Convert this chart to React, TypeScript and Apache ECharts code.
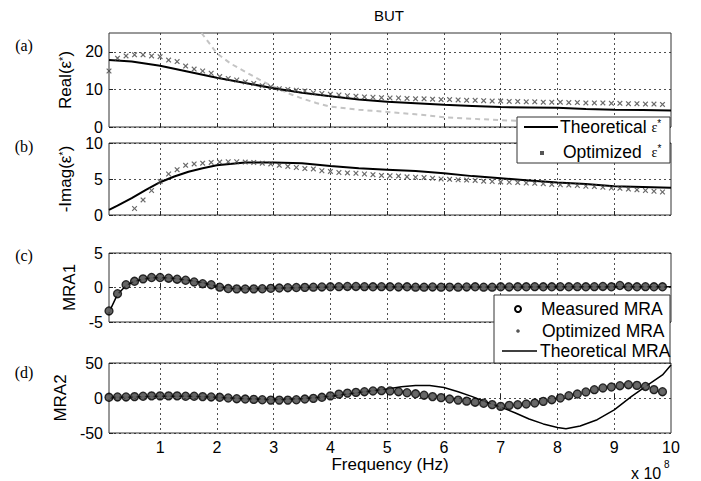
import React, { useEffect, useRef } from "react";
import * as echarts from "echarts";

// Frequency samples in units of 1e8 Hz
const freq = [0.1, 0.25, 0.4, 0.55, 0.7, 0.85, 1.0, 1.15, 1.3, 1.45, 1.6, 1.75, 1.9, 2.05, 2.2, 2.35, 2.5, 2.65, 2.8, 2.95, 3.1, 3.25, 3.4, 3.55, 3.7, 3.85, 4.0, 4.15, 4.3, 4.45, 4.6, 4.75, 4.9, 5.05, 5.2, 5.35, 5.5, 5.65, 5.8, 5.95, 6.1, 6.25, 6.4, 6.55, 6.7, 6.85, 7.0, 7.15, 7.3, 7.45, 7.6, 7.75, 7.9, 8.05, 8.2, 8.35, 8.5, 8.65, 8.8, 8.95, 9.1, 9.25, 9.4, 9.55, 9.7, 9.85];

// (a) Real(eps*)
const realOpt = [14.9, 18.3, 18.9, 19.2, 19.2, 18.9, 18.7, 17.8, 17.4, 16.2, 15.4, 14.9, 14.3, 13.4, 12.9, 12.5, 12.0, 11.6, 11.0, 10.7, 10.2, 10.0, 9.8, 9.6, 9.1, 8.9, 8.7, 8.5, 8.3, 8.2, 8.0, 7.9, 7.8, 7.7, 7.7, 7.6, 7.5, 7.5, 7.4, 7.3, 7.3, 7.2, 7.1, 7.1, 7.0, 6.9, 6.9, 6.8, 6.8, 6.7, 6.7, 6.6, 6.6, 6.6, 6.5, 6.5, 6.4, 6.4, 6.4, 6.3, 6.3, 6.2, 6.2, 6.1, 6.1, 6.0];
const realTheoF = [0.1, 0.5, 1, 1.5, 2, 2.5, 3, 3.5, 4, 4.5, 5, 5.5, 6, 6.5, 7, 7.5, 8, 8.5, 9, 9.5, 10];
const realTheo = [17.8, 17.4, 16.3, 14.7, 13.1, 11.7, 10.3, 9.1, 8.2, 7.3, 6.7, 6.3, 5.9, 5.6, 5.3, 5.2, 5.1, 4.8, 4.6, 4.5, 4.4];
const realGrayF = [1.73, 2, 2.25, 2.5, 2.75, 3, 3.25, 3.5, 3.75, 4, 4.5, 5, 5.5, 6, 6.5, 7, 7.5, 8, 8.5, 9, 9.5, 10];
const realGray = [25, 19.6, 16.8, 14.7, 12.6, 10.7, 9.0, 7.6, 6.4, 5.4, 4.6, 4.0, 3.4, 2.6, 2.2, 1.8, 1.6, 1.5, 1.4, 1.4, 1.3, 1.3];

// (b) -Imag(eps*)
const imagOpt = [-3.0, -1.5, -0.3, 0.9, 2.1, 3.4, 4.65, 5.7, 6.3, 6.9, 7.1, 7.2, 7.3, 7.35, 7.4, 7.4, 7.35, 7.3, 7.2, 7.1, 6.9, 6.75, 6.6, 6.45, 6.4, 6.15, 6.05, 5.9, 5.85, 5.8, 5.7, 5.6, 5.5, 5.45, 5.4, 5.3, 5.25, 5.2, 5.1, 5.0, 4.95, 4.9, 4.85, 4.8, 4.7, 4.65, 4.6, 4.55, 4.5, 4.45, 4.4, 4.35, 4.25, 4.2, 4.15, 4.1, 4.0, 3.95, 3.85, 3.75, 3.7, 3.6, 3.5, 3.4, 3.3, 3.2];
const imagTheoF = [0.1, 0.25, 0.5, 0.75, 1, 1.25, 1.5, 1.75, 2, 2.5, 3, 3.5, 4, 4.5, 5, 5.5, 6, 6.5, 7, 7.5, 8, 8.5, 9, 9.5, 10];
const imagTheo = [0.7, 1.3, 2.35, 3.5, 4.55, 5.35, 6.0, 6.5, 6.9, 7.3, 7.3, 7.2, 6.8, 6.5, 6.3, 6.1, 5.8, 5.4, 5.1, 4.8, 4.5, 4.3, 4.0, 3.9, 3.8];

// (c) MRA1
const mra1Meas = [-3.4, -0.9, 0.4, 0.9, 1.25, 1.45, 1.45, 1.35, 1.2, 1.05, 0.8, 0.55, 0.4, 0.05, -0.15, -0.2, -0.22, -0.2, -0.18, -0.12, -0.08, -0.03, 0.0, 0.02, 0.05, 0.08, 0.1, 0.12, 0.15, 0.15, 0.12, 0.1, 0.12, 0.1, 0.08, 0.1, 0.05, 0.05, 0.08, 0.05, 0.06, 0.05, 0.08, 0.1, 0.05, 0.05, 0.1, 0.08, 0.1, 0.1, 0.12, 0.1, 0.1, 0.12, 0.1, 0.12, 0.1, 0.12, 0.15, 0.1, 0.3, 0.1, 0.1, 0.12, 0.1, 0.1];
const mra1Opt = [-3.3, -1.0, 0.35, 0.95, 1.2, 1.4, 1.5, 1.3, 1.2, 1.0, 0.85, 0.5, 0.35, 0.1, -0.1, -0.2, -0.25, -0.2, -0.15, -0.1, -0.05, -0.05, 0.02, 0.05, 0.05, 0.1, 0.1, 0.1, 0.12, 0.12, 0.1, 0.12, 0.1, 0.1, 0.1, 0.08, 0.08, 0.06, 0.06, 0.06, 0.06, 0.06, 0.08, 0.08, 0.08, 0.08, 0.08, 0.1, 0.1, 0.1, 0.1, 0.1, 0.1, 0.1, 0.1, 0.1, 0.1, 0.1, 0.1, 0.1, 0.1, 0.1, 0.1, 0.1, 0.1, 0.1];
const mra1TheoF = [0.1, 0.25, 0.4, 0.55, 0.7, 0.85, 1.0, 1.25, 1.5, 1.75, 2.0, 2.25, 2.5, 2.75, 3, 3.5, 4, 5, 6, 7, 8, 9, 10];
const mra1Theo = [-3.6, -1.0, 0.3, 0.9, 1.2, 1.4, 1.45, 1.3, 1.05, 0.7, 0.15, -0.15, -0.2, -0.18, -0.1, 0.0, 0.08, 0.1, 0.08, 0.08, 0.1, 0.1, 0.1];

// (d) MRA2
const mra2Meas = [1.0, 1.5, 1.5, 2.0, 2.5, 3.0, 3.0, 3.0, 3.0, 2.5, 2.5, 2.0, 1.5, 1.0, 0.0, -1.0, -1.5, -2.0, -2.5, -3.0, -3.0, -3.0, -2.5, -1.5, -0.5, 1.0, 3.0, 5.5, 7.0, 8.0, 9.0, 10.0, 10.5, 10.0, 9.0, 7.5, 6.0, 4.0, 2.0, 0.5, -1.5, -3.0, -4.5, -6.0, -7.5, -9.5, -12.0, -10.5, -9.6, -8.6, -7.2, -4.8, -2.4, 0.0, 3.3, 5.7, 8.6, 11.9, 14.3, 15.7, 17.6, 19.0, 18.0, 16.5, 12.0, 9.0];
const mra2Opt = [1.2, 1.4, 1.6, 2.0, 2.4, 2.8, 3.0, 3.0, 2.9, 2.6, 2.4, 2.0, 1.4, 0.8, 0.0, -0.9, -1.6, -2.1, -2.6, -2.9, -3.1, -2.9, -2.4, -1.6, -0.4, 1.1, 3.1, 5.3, 7.1, 8.2, 9.1, 9.8, 10.4, 10.1, 9.1, 7.4, 5.8, 4.1, 2.2, 0.4, -1.4, -3.1, -4.6, -6.1, -7.4, -9.6, -11.8, -10.6, -9.5, -8.5, -7.0, -4.9, -2.3, 0.2, 3.1, 5.8, 8.7, 11.7, 14.2, 15.9, 17.4, 18.8, 18.1, 16.2, 12.2, 9.1];
const mra2TheoF = [0.1, 0.5, 1, 1.5, 2, 2.5, 3, 3.5, 4, 4.5, 5, 5.25, 5.5, 5.75, 6, 6.25, 6.5, 6.75, 7, 7.25, 7.5, 7.75, 8, 8.15, 8.4, 8.7, 9, 9.3, 9.6, 9.85, 10];
const mra2Theo = [1, 1.5, 2.5, 2.5, 1, -1, -2.5, -1, 2.5, 8, 13, 16, 18, 18, 15, 9, 2, -6, -13, -21, -30, -37, -42, -44, -40, -31, -17, 2, 19, 33, 47];

// Axes
const xTicks = [1, 2, 3, 4, 5, 6, 7, 8, 9];
const xLabels = [1, 2, 3, 4, 5, 6, 7, 8, 9, 10];
const yTicksA = [0, 10, 20];
const yTicksB = [0, 5, 10];
const yTicksC = [-5, 0, 5];
const yTicksD = [-50, 0, 50];
const yRanges = [[0, 25], [0, 10], [-5, 5], [-50, 50]];
const yNames = ["Real(ε{s|*})", "-Imag(ε{s|*})", "MRA1", "MRA2"];
const panelLabels = ["(a)", "(b)", "(c)", "(d)"];
const titleText = "BUT";
const xName = "Frequency (Hz)";

const pair = (xs: number[], ys: number[]) => xs.map((x, i) => [x, ys[i]]);

const FONT = "Liberation Sans, Arial, sans-serif";
const grids = [
  { top: 33, height: 94 },
  { top: 143, height: 72 },
  { top: 253, height: 69 },
  { top: 363, height: 70 },
];
const nameGaps = [28, 30, 25, 33];
const yTickSets = [yTicksA, yTicksB, yTicksC, yTicksD];
const panelLabelY = [45, 146, 255, 372];

const xCross = "path://M0,1.5 L1.5,0 L5,3.5 L8.5,0 L10,1.5 L6.5,5 L10,8.5 L8.5,10 L5,6.5 L1.5,10 L0,8.5 L3.5,5 Z";

function buildOption(): any {
  const dotted = { color: "#222", type: [2, 3], width: 0.8 };
  const xAxis = grids.map((_, i) => ({
    type: "value",
    gridIndex: i,
    min: 0.1,
    max: 10,
    axisLine: { show: false },
    axisTick: { show: true, inside: true, length: 4, customValues: xTicks, lineStyle: { color: "#222" } },
    axisLabel: { show: i === 3, customValues: xLabels, fontSize: 16, color: "#000", fontFamily: FONT, margin: 6 },
    splitLine: { show: true, lineStyle: dotted },
    name: i === 3 ? xName : "",
    nameLocation: "middle",
    nameGap: 22,
    nameTextStyle: { fontSize: 17, color: "#000", fontFamily: FONT },
  }));
  const yAxis = grids.map((_, i) => ({
    type: "value",
    gridIndex: i,
    min: yRanges[i][0],
    max: yRanges[i][1],
    axisLine: { show: false },
    axisTick: { show: true, inside: true, length: 4, customValues: yTickSets[i], lineStyle: { color: "#222" } },
    axisLabel: { customValues: yTickSets[i], fontSize: 16, color: "#000", fontFamily: FONT, margin: 6 },
    splitLine: { show: true, lineStyle: dotted },
    name: yNames[i],
    nameLocation: "middle",
    nameGap: nameGaps[i],
    nameTextStyle: {
      fontSize: 17,
      color: "#000",
      fontFamily: FONT,
      rich: { s: { fontSize: 11, fontFamily: FONT, color: "#000", verticalAlign: "top", lineHeight: 10 } },
    },
  }));

  const lineStyleSeries = (data: any, gi: number, color: string, width: number, type: any = "solid") => ({
    type: "line",
    xAxisIndex: gi,
    yAxisIndex: gi,
    data,
    symbol: "none",
    clip: true,
    lineStyle: { color, width, type },
    z: 3,
  });

  const series: any[] = [
    lineStyleSeries(pair(realGrayF, realGray), 0, "#c4c4c4", 2, [5, 4]),
    lineStyleSeries(pair(realTheoF, realTheo), 0, "#000", 2),
    {
      type: "scatter", xAxisIndex: 0, yAxisIndex: 0, data: pair(freq, realOpt),
      symbol: xCross, symbolSize: 5.5, itemStyle: { color: "#444" }, clip: true, z: 4,
    },
    lineStyleSeries(pair(imagTheoF, imagTheo), 1, "#000", 2),
    {
      type: "scatter", xAxisIndex: 1, yAxisIndex: 1, data: pair(freq, imagOpt),
      symbol: xCross, symbolSize: 5.5, itemStyle: { color: "#444" }, clip: true, z: 4,
    },
    lineStyleSeries(pair(mra1TheoF, mra1Theo), 2, "#000", 1.5),
    {
      type: "scatter", xAxisIndex: 2, yAxisIndex: 2, data: pair(freq, mra1Meas),
      symbol: "circle", symbolSize: 8, itemStyle: { color: "#3c3c3c", borderColor: "#000", borderWidth: 1.3 }, clip: true, z: 4,
    },
    {
      type: "scatter", xAxisIndex: 2, yAxisIndex: 2, data: pair(freq, mra1Opt),
      symbol: "circle", symbolSize: 4, itemStyle: { color: "#6a6a6a" }, clip: true, z: 5,
    },
    lineStyleSeries(pair(mra2TheoF, mra2Theo), 3, "#000", 1.5),
    {
      type: "scatter", xAxisIndex: 3, yAxisIndex: 3, data: pair(freq, mra2Meas),
      symbol: "circle", symbolSize: 8, itemStyle: { color: "#3c3c3c", borderColor: "#000", borderWidth: 1.3 }, clip: true, z: 4,
    },
    {
      type: "scatter", xAxisIndex: 3, yAxisIndex: 3, data: pair(freq, mra2Opt),
      symbol: "circle", symbolSize: 4, itemStyle: { color: "#6a6a6a" }, clip: true, z: 5,
    },
  ];

  const legendText = (x: number, y: number, text: string) => ({
    type: "text", x, y, z: 101,
    style: {
      text, fontSize: 17.5, fontFamily: FONT, fill: "#000", verticalAlign: "middle", align: "left",
      rich: { s: { fontSize: 10, fontFamily: FONT, fill: "#000", verticalAlign: "top", lineHeight: 10 }, e: { fontSize: 14, fontFamily: "Liberation Serif, serif", fill: "#000" } },
    },
  });

  const graphic: any[] = [
    { type: "text", x: 389, y: 15, z: 100, style: { text: titleText, fontSize: 15, fontFamily: FONT, fill: "#000", align: "center", verticalAlign: "middle" } },
    ...panelLabels.map((t, i) => ({
      type: "text", x: 24, y: panelLabelY[i], z: 100,
      style: { text: t, fontSize: 16, fontFamily: "Liberation Serif, Times New Roman, serif", fill: "#000", align: "center", verticalAlign: "middle" },
    })),
    { type: "text", x: 631, y: 473, z: 100, style: { text: "x 10", fontSize: 16, fontFamily: FONT, fill: "#000", align: "left", verticalAlign: "middle" } },
    { type: "text", x: 664, y: 464, z: 100, style: { text: "8", fontSize: 10, fontFamily: FONT, fill: "#000", align: "left", verticalAlign: "middle" } },
    // Legend 1
    { type: "rect", z: 100, shape: { x: 517, y: 117, width: 153, height: 46 }, style: { fill: "#fff", stroke: "#333", lineWidth: 1 } },
    { type: "line", z: 101, shape: { x1: 524, y1: 127, x2: 558, y2: 127 }, style: { stroke: "#000", lineWidth: 2 } },
    legendText(560, 127, "Theoretical {e|ε}{s|*}"),
    { type: "rect", z: 101, shape: { x: 540, y: 151, width: 4, height: 4 }, style: { fill: "#555" } },
    legendText(563, 152, "Optimized  {e|ε}{s|*}"),
    // Legend 2
    { type: "rect", z: 100, shape: { x: 494, y: 295, width: 176, height: 68 }, style: { fill: "#fff", stroke: "#333", lineWidth: 1 } },
    { type: "circle", z: 101, shape: { cx: 518, cy: 309, r: 3 }, style: { fill: "#fff", stroke: "#000", lineWidth: 2 } },
    legendText(541, 309, "Measured MRA"),
    { type: "circle", z: 101, shape: { cx: 518, cy: 331, r: 1.8 }, style: { fill: "#555" } },
    legendText(542, 331, "Optimized MRA"),
    { type: "line", z: 101, shape: { x1: 502, y1: 351, x2: 537, y2: 351 }, style: { stroke: "#000", lineWidth: 1.5 } },
    legendText(540, 351, "Theoretical MRA"),
  ];

  return {
    animation: false,
    backgroundColor: "#fff",
    textStyle: { fontFamily: FONT },
    grid: grids.map((g) => ({ left: 109, right: 30, top: g.top, height: g.height, show: true, borderColor: "#333", borderWidth: 1, backgroundColor: "transparent" })),
    xAxis,
    yAxis,
    series,
    graphic,
  };
}

export default function App() {
  const ref = useRef<HTMLDivElement>(null);
  useEffect(() => {
    document.body.style.margin = "0";
    const chart = echarts.init(ref.current as HTMLDivElement, null, { renderer: "svg" });
    chart.setOption(buildOption());
    return () => chart.dispose();
  }, []);
  return <div ref={ref} style={{ width: 701, height: 481 }} />;
}
